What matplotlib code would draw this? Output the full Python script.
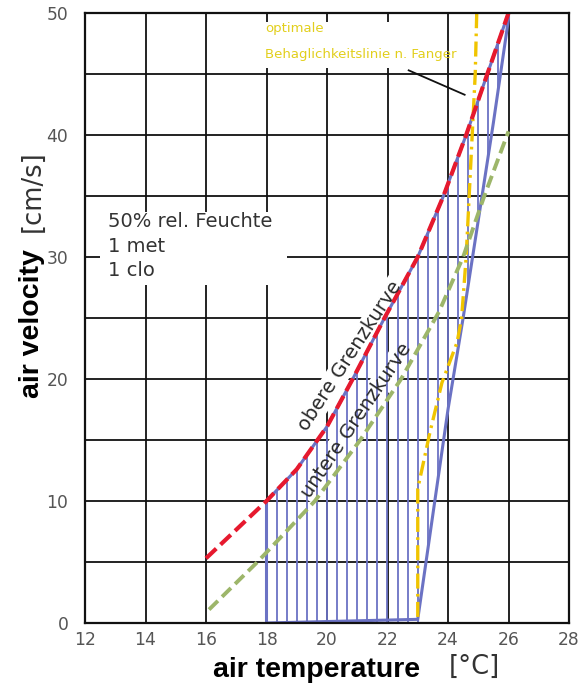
import numpy as np
import matplotlib
matplotlib.use("Agg")
import matplotlib.pyplot as plt
from matplotlib.patches import Rectangle, Polygon

# ---------------- data ----------------
x_ticks = [12, 14, 16, 18, 20, 22, 24, 26, 28]
y_ticks = [0, 10, 20, 30, 40, 50]
x_grid = [12, 14, 16, 18, 20, 22, 24, 26, 28]
y_grid = [0, 5, 10, 15, 20, 25, 30, 35, 40, 45, 50]

# obere Grenzkurve (red)
upper_T = [16.0, 18.0, 19.0, 20.0, 20.85, 21.9, 23.0, 23.85, 24.6, 25.3, 26.0]
upper_V = [5.3, 10.0, 12.6, 16.1, 20.0, 25.0, 30.0, 35.0, 40.0, 45.0, 50.0]
# untere Grenzkurve (green)
lower_T = [16.1, 17.7, 19.6, 21.1, 22.45, 23.7, 24.5, 25.2, 26.0]
lower_V = [1.1, 5.0, 10.0, 15.0, 20.0, 25.5, 30.0, 35.0, 40.3]
# optimale Behaglichkeitslinie n. Fanger (yellow)
fanger_T = [23.0, 23.0, 23.4, 23.8, 24.3, 24.45, 24.6, 24.7, 24.8, 24.9, 24.95]
fanger_V = [0.5, 11.0, 15.6, 19.7, 23.0, 25.0, 30.0, 35.0, 40.0, 45.0, 50.0]
# comfort zone (blue hatched) boundaries
zone_right_T = [23.0, 24.0, 24.5, 25.5, 26.0]
zone_right_V = [0.3, 17.5, 25.0, 41.0, 49.5]
zone_left_T = 18.0
zone_floor_V = 0.0
hatch_step = 1.0 / 3.0

labels_box = ["50% rel. Feuchte", "1 met", "1 clo"]
label_fanger = ["optimale", "Behaglichkeitslinie n. Fanger"]

# ---------------- colours ----------------
RED = "#e6192e"
GREEN = "#9db66a"
YELLOW = "#f0c400"
YTEXT = "#e2cf1c"
BLUE = "#6b72c4"

fig = plt.figure(figsize=(5.87, 6.89), dpi=100)
ax = fig.add_axes([85 / 587, 1 - 623 / 689, 484 / 587, 610 / 689])
ax.set_xlim(12, 28)
ax.set_ylim(0, 50)

# grid
for gx in x_grid:
    ax.axvline(gx, color="#111111", lw=1.3, zorder=0.5)
for gy in y_grid:
    ax.axhline(gy, color="#111111", lw=1.3, zorder=0.5)

# white masks behind the annotation texts
ax.add_patch(Rectangle((17.72, 45.5), 23.9 - 17.72, 49.3 - 45.5,
                       facecolor="white", edgecolor="none", zorder=1))
ax.add_patch(Rectangle((12.5, 27.7), 18.68 - 12.5, 33.7 - 27.7,
                       facecolor="white", edgecolor="none", zorder=1))

# comfort zone hatch
hx = np.arange(zone_left_T, upper_T[-1] + 1e-9, hatch_step)
htop = np.interp(hx, upper_T, upper_V)
hbot = np.where(hx <= zone_right_T[0], zone_floor_V,
                np.interp(hx, zone_right_T, zone_right_V))
ax.vlines(hx, hbot, htop, color=BLUE, lw=1.3, zorder=2)

# comfort zone outline
i0 = upper_T.index(zone_left_T)
poly = list(zip(upper_T[i0:], upper_V[i0:])) + list(zip(zone_right_T[::-1], zone_right_V[::-1])) \
    + [(zone_left_T, zone_floor_V)]
ax.add_patch(Polygon(poly, closed=True, fill=False, edgecolor=BLUE, lw=2.2, zorder=3))

# curves
ax.plot(fanger_T, fanger_V, color=YELLOW, lw=2.4, ls=(0, (4.5, 1.6, 0.8, 1.6)), zorder=4,
        solid_capstyle="butt")
ax.plot(lower_T, lower_V, color=GREEN, lw=2.8, ls=(0, (3.2, 1.5)), zorder=4)
ax.plot(upper_T, upper_V, color=RED, lw=3.0, ls=(0, (3.4, 1.4)), zorder=5)

# rotated curve labels (white bbox masks grid underneath, glyphs on top)
for txt, (tx, ty), rot in [("obere Grenzkurve", (20.76, 21.9), 57),
                           ("untere Grenzkurve", (20.96, 16.6), 56)]:
    ax.text(tx, ty, txt, rotation=rot, rotation_mode="anchor", ha="center", va="center",
            fontsize=14, color="white", zorder=1,
            bbox=dict(boxstyle="square,pad=0.1", fc="white", ec="none"))
    ax.text(tx, ty, txt, rotation=rot, rotation_mode="anchor", ha="center", va="center",
            fontsize=14, color="#2a2a2a", zorder=6)

# box text
for t, yy in zip(labels_box, [32.87, 30.82, 28.93]):
    ax.text(12.76, yy, t, fontsize=14, color="#333333", va="center", ha="left", zorder=6)

# Fanger label
for t, yy in zip(label_fanger, [48.77, 46.56]):
    ax.text(17.95, yy, t, fontsize=9.5, color=YTEXT, va="center", ha="left", zorder=6)
ax.plot([22.7, 24.55], [45.3, 43.3], color="#111111", lw=1.3, zorder=6)

# axes styling
ax.set_xticks(x_ticks)
ax.set_yticks(y_ticks)
ax.tick_params(length=0, labelsize=12.3, labelcolor="#555555")
ax.tick_params(axis="x", pad=6)
ax.tick_params(axis="y", pad=12)
for s in ax.spines.values():
    s.set_linewidth(1.6)
    s.set_color("#111111")
    s.set_zorder(7)

# axis labels
fig.text(32 / 587, 1 - 324 / 689, "air velocity", rotation=90, ha="center", va="center",
         fontsize=20.5, fontweight="bold", family="Liberation Sans", color="black")
fig.text(33 / 587, 1 - 191 / 689, "[cm/s]", rotation=90, ha="center", va="center",
         fontsize=18.5, color="#333333")
fig.text(317 / 587, 1 - 670 / 689, "air temperature", ha="center", va="center",
         fontsize=20.5, fontweight="bold", family="Liberation Sans", color="black")
fig.text(474 / 587, 1 - 667 / 689, "[°C]", ha="center", va="center",
         fontsize=18.5, color="#333333")

fig.savefig("out.png", dpi=100, facecolor="white")
